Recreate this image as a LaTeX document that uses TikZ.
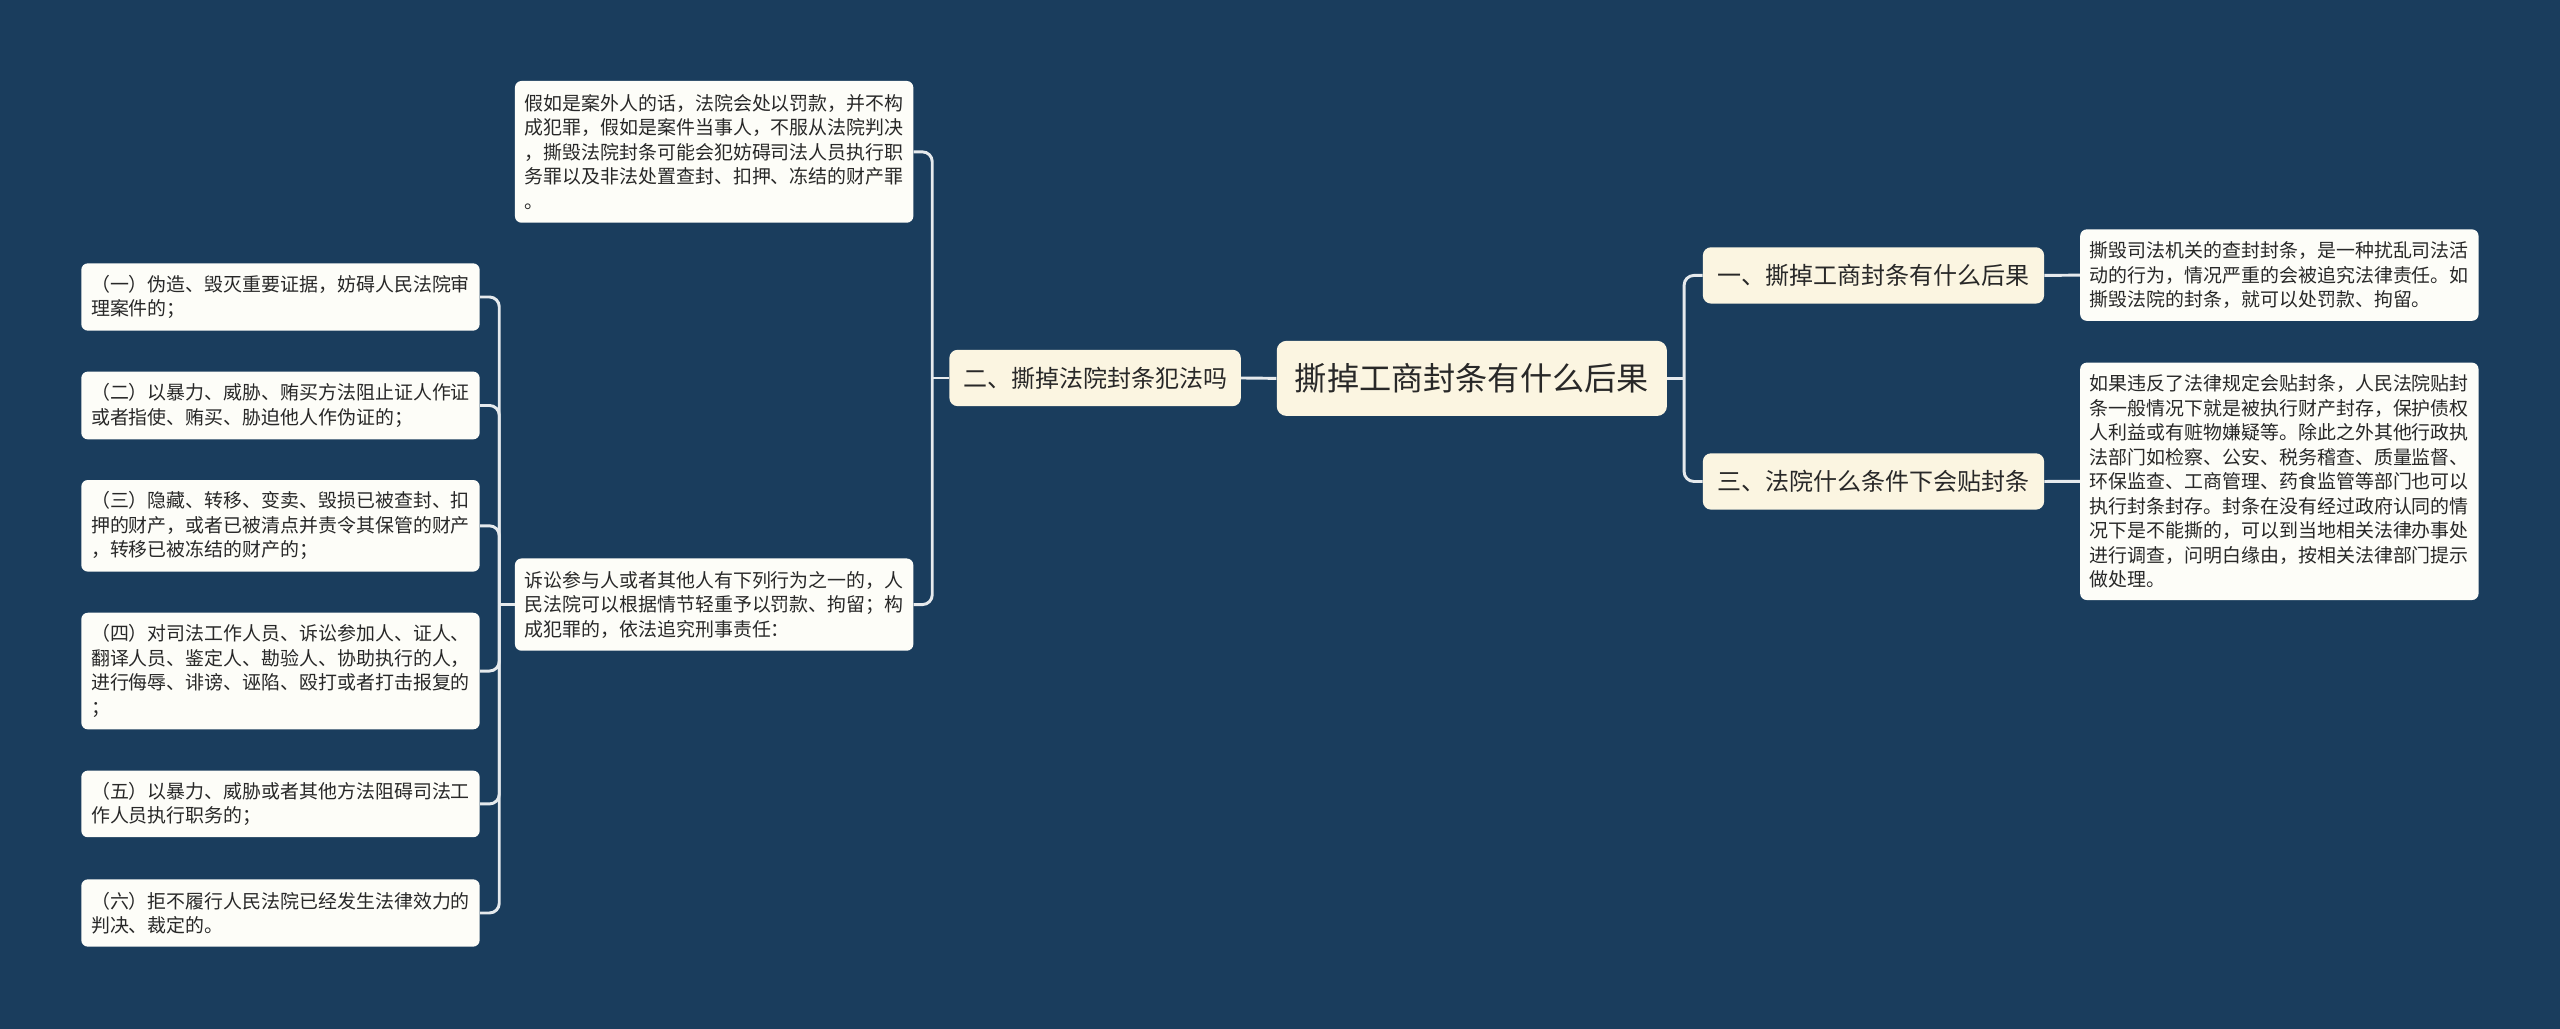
\documentclass[tikz,border=0pt]{standalone}
\usepackage{fontspec}
\setmainfont{Noto Sans CJK SC}
\definecolor{bg}{RGB}{26,61,93}
\definecolor{maincol}{RGB}{251,245,225}
\definecolor{leafcol}{RGB}{253,253,248}
\definecolor{ink}{RGB}{40,40,40}
\definecolor{wire}{RGB}{230,234,237}
\begin{document}
\begin{tikzpicture}[x=1pt,y=-1pt,
  leafbox/.style={fill=leafcol, rounded corners=4pt, text=ink, font=\fontsize{11.6}{15}\selectfont, text width=232pt, align=left, inner xsep=6pt, inner ysep=0pt},
  topicbox/.style={fill=maincol, rounded corners=5pt, text=ink, font=\fontsize{14.7}{18}\selectfont, inner sep=0pt, minimum height=34.5pt},
  rootbox/.style={fill=maincol, rounded corners=6pt, text=ink, font=\fontsize{19.7}{24}\selectfont, inner sep=0pt, minimum width=239pt, minimum height=46pt},
  conn/.style={draw=wire, line width=1.8pt, rounded corners=6pt}]
\fill[bg] (0,0) rectangle (1568,630);
\useasboundingbox (0,0) rectangle (1568,630);

% root and topics
\node[rootbox] (root) at (901.5,231.75) {撕掉工商封条有什么后果};
\node[topicbox, minimum width=178.5pt] (n2) at (670.75,231.5) {二、撕掉法院封条犯法吗};
\node[topicbox, minimum width=209pt] (n1) at (1147.5,168.7) {一、撕掉工商封条有什么后果};
\node[topicbox, minimum width=209pt] (n3) at (1147.5,294.9) {三、法院什么条件下会贴封条};

% right leaves
\node[leafbox, minimum height=56pt] (r1) at (1396.1,168.5) {撕毁司法机关的查封封条，是一种扰乱司法活\\动的行为，情况严重的会被追究法律责任。如\\撕毁法院的封条，就可以处罚款、拘留。};
\node[leafbox, minimum height=145.4pt] (r2) at (1396.1,294.8) {如果违反了法律规定会贴封条，人民法院贴封\\条一般情况下就是被执行财产封存，保护债权\\人利益或有赃物嫌疑等。除此之外其他行政执\\法部门如检察、公安、税务稽查、质量监督、\\环保监查、工商管理、药食监管等部门也可以\\执行封条封存。封条在没有经过政府认同的情\\况下是不能撕的，可以到当地相关法律办事处\\进行调查，问明白缘由，按相关法律部门提示\\做处理。};

% middle-left leaves
\node[leafbox, minimum height=86.8pt] (lA) at (437.4,93) {假如是案外人的话，法院会处以罚款，并不构\\成犯罪，假如是案件当事人，不服从法院判决\\，撕毁法院封条可能会犯妨碍司法人员执行职\\务罪以及非法处置查封、扣押、冻结的财产罪\\。};
\node[leafbox, minimum height=56.5pt] (lB) at (437.4,370.3) {诉讼参与人或者其他人有下列行为之一的，人\\民法院可以根据情节轻重予以罚款、拘留；构\\成犯罪的，依法追究刑事责任：};

% far-left leaves
\node[leafbox, minimum height=41.2pt] (L1) at (171.8,181.9) {（一）伪造、毁灭重要证据，妨碍人民法院审\\理案件的；};
\node[leafbox, minimum height=41.5pt] (L2) at (171.8,248.35) {（二）以暴力、威胁、贿买方法阻止证人作证\\或者指使、贿买、胁迫他人作伪证的；};
\node[leafbox, minimum height=56.1pt] (L3) at (171.8,322.05) {（三）隐藏、转移、变卖、毁损已被查封、扣\\押的财产，或者已被清点并责令其保管的财产\\，转移已被冻结的财产的；};
\node[leafbox, minimum height=71.4pt] (L4) at (171.8,411) {（四）对司法工作人员、诉讼参加人、证人、\\翻译人员、鉴定人、勘验人、协助执行的人，\\进行侮辱、诽谤、诬陷、殴打或者打击报复的\\；};
\node[leafbox, minimum height=40.8pt] (L5) at (171.8,492.4) {（五）以暴力、威胁或者其他方法阻碍司法工\\作人员执行职务的；};
\node[leafbox, minimum height=41.2pt] (L6) at (171.8,559.2) {（六）拒不履行人民法院已经发生法律效力的\\判决、裁定的。};

% junctions
\coordinate (jr) at (1031.5,231.75);
\coordinate (jl) at (571,231.5);
\coordinate (jb) at (305.8,370.3);

% connectors
\draw[conn] (root.east) -- (jr);
\draw[conn] (n1.west) -| (jr) |- (n3.west);
\draw[conn] (n1.east) -- (r1.west);
\draw[conn] (n3.east) -- (r2.west);
\draw[conn] (root.west) -- (n2.east);
\draw[conn] (n2.west) -- (jl);
\draw[conn] (lA.east) -| (jl) |- (lB.east);
\draw[conn] (lB.west) -- (jb);
\draw[conn] (L1.east) -| (jb) |- (L6.east);
\draw[conn] (L2.east) -| (jb);
\draw[conn] (L3.east) -| (jb);
\draw[conn] (L4.east) -| (jb);
\draw[conn] (L5.east) -| (jb);
\end{tikzpicture}
\end{document}
